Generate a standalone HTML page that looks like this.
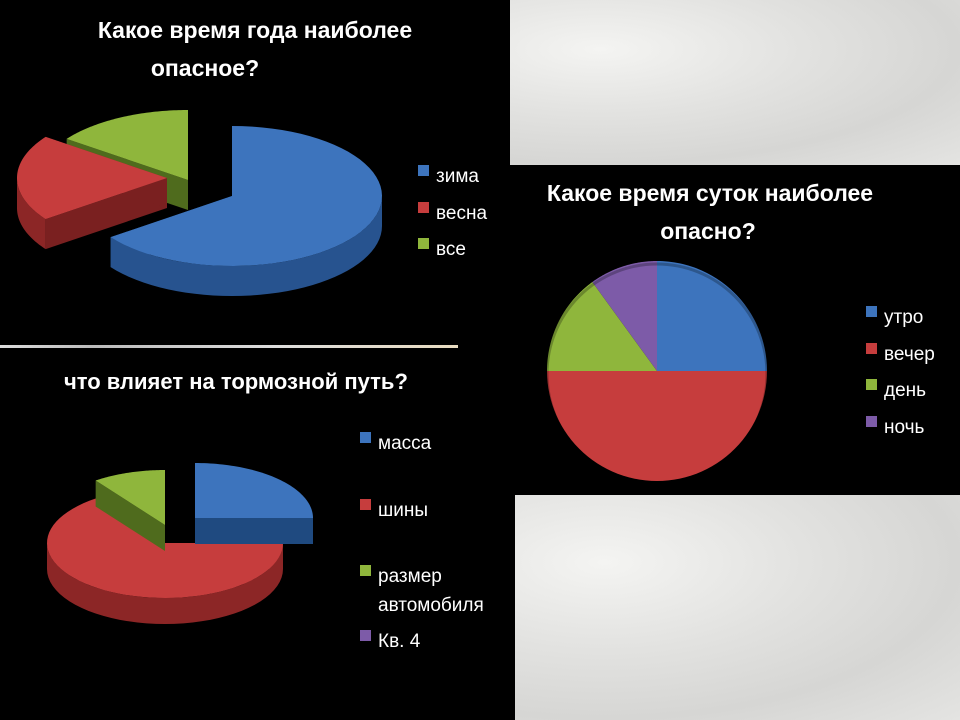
<!DOCTYPE html>
<html><head><meta charset="utf-8"><style>
html,body{margin:0;padding:0;background:#000;}
#wrap{position:relative;width:960px;height:720px;overflow:hidden;background:#000;font-family:"Liberation Sans","DejaVu Sans",sans-serif;}
.tex{position:absolute;background:radial-gradient(ellipse at 20% 30%,#f4f4f2 0%,#e2e2e0 40%,#d6d6d4 70%,#e4e4e2 100%);}
</style></head><body>
<div id="wrap">
<div class="tex" style="left:510px;top:0;width:450px;height:165px"></div>
<div class="tex" style="left:515px;top:495px;width:445px;height:225px"></div>
<div style="position:absolute;left:0;top:345px;width:458px;height:3px;background:linear-gradient(90deg,#ddd,#bbb 20%,#ddd 60%,#e8dcc0)"></div>
<svg id="svg" width="960" height="720" style="position:absolute;left:0;top:0">
<g font-family="Liberation Sans, DejaVu Sans, sans-serif" fill="#fff" font-weight="bold">
<text x="255" y="38" font-size="23" text-anchor="middle">Какое время года наиболее</text>
<text x="205" y="76" font-size="23" text-anchor="middle">опасное?</text>
<text x="710" y="201" font-size="23" text-anchor="middle">Какое время суток наиболее</text>
<text x="708" y="239" font-size="23" text-anchor="middle">опасно?</text>
<text x="64" y="389" font-size="22">что влияет на тормозной путь?</text>
</g>
<g id="g1"></g><g id="g2"></g><g id="g3"></g><g id="legends" font-family="Liberation Sans, DejaVu Sans, sans-serif" fill="#fff" font-size="19"></g>
</svg>
</div>
<script>
// chart 1
const c1Labels=["зима","весна","все"];
const c1Values=[65,20,15];
// chart 2
const c2Labels=["утро","вечер","день","ночь"];
const c2Values=[25,50,15,10];
// chart 3
const c3Labels=["масса","шины","размер автомобиля","Кв. 4"];
const c3Values=[25,65,10,0];

const NS="http://www.w3.org/2000/svg";
const COL=[{top:"#3d74bd",side:"#27538f",cut:"#1f4a80"},{top:"#c63d3d",side:"#8c2626",cut:"#7a2020"},{top:"#8fb63c",side:"#5d7c23",cut:"#4f6b1d"},{top:"#7d5ba8",side:"#54397a",cut:"#4a3270"}];
function mk(tag,attrs,parent){const e=document.createElementNS(NS,tag);for(const k in attrs)e.setAttribute(k,attrs[k]);parent.appendChild(e);return e;}
function angles(vals){const tot=vals.reduce((a,b)=>a+b,0);let a=-90;return vals.map(v=>{const s=a;a+=v/tot*360;return [s,a];});}
function pt(cx,cy,rx,ry,deg,dy){const r=deg*Math.PI/180;return [cx+rx*Math.cos(r),cy+ry*Math.sin(r)+(dy||0)];}
function pie3d(g,vals,cfg,name){
  const ang=angles(vals);
  cfg.order.forEach(i=>{
    const a=ang[i];
    if(a[1]-a[0]<=0.01)return;
    const o=cfg.off[i];const cx=cfg.cx+o[0],cy=cfg.cy+o[1],rx=cfg.rx,ry=cfg.ry,d=cfg.d;
    const c=COL[i];
    const grp=mk("g",{},g);
    
    
    [a[0],a[1]].forEach(t=>{const p=pt(cx,cy,rx,ry,t);
      mk("polygon",{points:`${cx},${cy} ${p[0]},${p[1]} ${p[0]},${p[1]+d} ${cx},${cy+d}`,fill:c.cut},grp);});
    const s=Math.max(a[0],0),e=Math.min(a[1],180);
    const s2=Math.max(a[0],360),e2=Math.min(a[1],540);
    [[s,e],[s2,e2]].forEach(r=>{ if(r[1]>r[0]){let pts=[];
      for(let t=r[0];t<=r[1]+0.001;t+=(r[1]-r[0])/40)pts.push(pt(cx,cy,rx,ry,t));
      let back=pts.map(p=>[p[0],p[1]+d]).reverse();
      mk("polygon",{points:pts.concat(back).map(p=>p.join(",")).join(" "),fill:c.side},grp);}});
    let pts=[[cx,cy]];for(let t=a[0];t<=a[1]+0.001;t+=(a[1]-a[0])/60)pts.push(pt(cx,cy,rx,ry,t));
    mk("polygon",{points:pts.map(p=>p.join(",")).join(" "),fill:c.top},grp);
  });
}
pie3d(document.getElementById("g1"),c1Values,{cx:232,cy:196,rx:150,ry:70,d:30,off:[[0,0],[-65,-18],[-44,-16],[0,0]],order:[2,1,0]},"chart1");
pie3d(document.getElementById("g3"),c3Values,{cx:195,cy:518,rx:118,ry:55,d:26,off:[[0,0],[-30,25],[-30,7],[0,0]],order:[1,2,0,3]},"chart3");
(function(){const g=document.getElementById("g2");const ang=angles(c2Values);const cx=657,cy=371,r=110;
 ang.forEach((a,i)=>{if(a[1]-a[0]<=0.01)return;let pts=[[cx,cy]];for(let t=a[0];t<=a[1]+0.001;t+=(a[1]-a[0])/60)pts.push(pt(cx,cy,r,r,t));
  const p=mk("polygon",{points:pts.map(q=>q.join(",")).join(" "),fill:COL[i].top},g);
  
  });
 mk("ellipse",{cx:cx,cy:cy+3,rx:r,ry:r,fill:"none",stroke:"rgba(0,0,0,0.25)","stroke-width":3},g);})();
function legend(labels,x,ys,name){const L=document.getElementById("legends");
 labels.forEach((lab,i)=>{const parts=lab.split(" ");const y=ys[i];
  const r=mk("rect",{x:x,y:y-12,width:11,height:11,fill:COL[i].top},L);
  
  
  const lines=(lab==="размер автомобиля")?parts:[lab];
  lines.forEach((ln,k)=>{const t=mk("text",{x:x+18,y:y+5+k*29},L);t.textContent=ln;
   
   });});}
legend(c1Labels,418,[177,214,250],"chart1");
legend(c2Labels,866,[318,355,391,428],"chart2");
legend(c3Labels,360,[444,511,577,642],"chart3");
</script>
</body></html>
